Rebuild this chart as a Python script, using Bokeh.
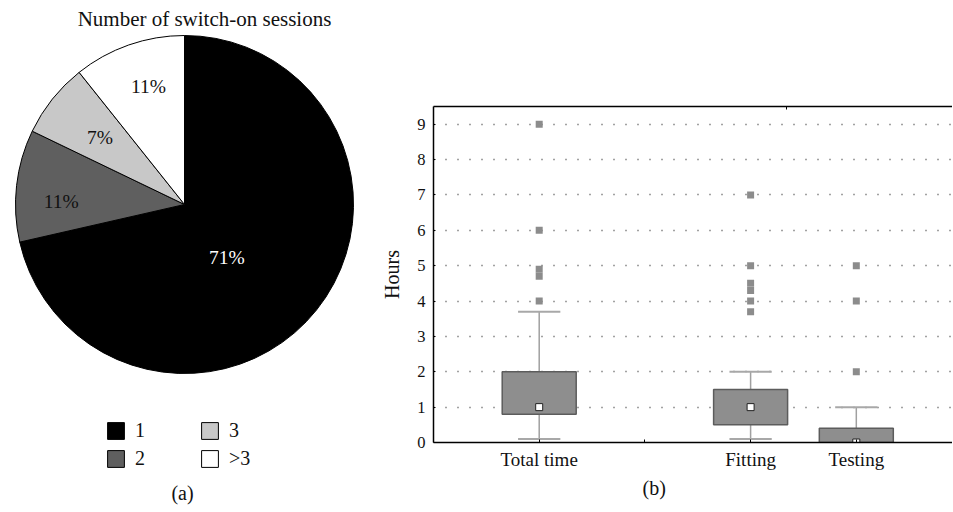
import math
from bokeh.plotting import figure
from bokeh.layouts import row, column
from bokeh.models import (Range1d, Label, Legend, LegendItem, LinearAxis,
                          FixedTicker, ColumnDataSource, Title)
from bokeh.embed import file_html
from bokeh.resources import INLINE

# ---------------- data ----------------
pie_title = "Number of switch-on sessions"
session_labels = ["1", "2", "3", ">3"]
session_counts = [20, 3, 2, 3]
session_colors = ["#000000", "#5f5f5f", "#c8c8c8", "#ffffff"]
pct_text_colors = ["#ffffff", "#111111", "#111111", "#111111"]

box_categories = ["Total time", "Fitting", "Testing"]
box_positions = [1, 3, 4]
box_q1 = [0.8, 0.5, 0.0]
box_q3 = [2.0, 1.5, 0.4]
box_median = [1.0, 1.0, 0.0]
whisker_low = [0.1, 0.1, 0.0]
whisker_high = [3.7, 2.0, 1.0]
outliers_total = [4.0, 4.7, 4.9, 6.0, 9.0]
outliers_fitting = [3.7, 4.0, 4.3, 4.5, 5.0, 7.0]
outliers_testing = [2.0, 4.0, 5.0]
y_ticks = [0, 1, 2, 3, 4, 5, 6, 7, 8, 9]

FONT = "Liberation Serif"

# ---------------- pie (a) ----------------
W1, H = 360, 511
p1 = figure(width=W1, height=H, x_range=Range1d(0, W1), y_range=Range1d(0, H),
            output_backend="svg", toolbar_location=None, min_border=0)
p1.axis.visible = False
p1.grid.visible = False
p1.outline_line_color = None

cx, cy, R = 184, 307, 169
total = sum(session_counts)
fracs = [c / total for c in session_counts]
cum = [0]
for f in fracs:
    cum.append(cum[-1] + f)
starts = [math.pi / 2 - 2 * math.pi * cum[i + 1] for i in range(len(fracs))]
ends = [math.pi / 2 - 2 * math.pi * cum[i] for i in range(len(fracs))]
src = ColumnDataSource(dict(start=starts, end=ends, color=session_colors,
                            label=session_labels))
wr = p1.wedge(x=cx, y=cy, radius=R, start_angle="start", end_angle="end",
              fill_color="color", line_color="#000000", line_width=1, source=src)

label_r = [0.40, 0.73, 0.64, 0.73]
label_shift = [-12.5, 5.0, 0.0, -2.3]   # degrees, counter-clockwise
for i, f in enumerate(fracs):
    mid = math.pi / 2 - 2 * math.pi * (cum[i] + f / 2) + math.radians(label_shift[i])
    lx = cx + label_r[i] * R * math.cos(mid)
    ly = cy + label_r[i] * R * math.sin(mid)
    p1.add_layout(Label(x=lx, y=ly, text=f"{round(f * 100)}%",
                        text_font=FONT, text_font_size="19.5px",
                        text_color=pct_text_colors[i], text_align="center",
                        text_baseline="middle"))

p1.add_layout(Label(x=204, y=493, text=pie_title, text_font=FONT,
                    text_font_size="21px", text_color="#111111",
                    text_align="center", text_baseline="middle"))
p1.add_layout(Label(x=182, y=19, text="(a)", text_font=FONT,
                    text_font_size="20px", text_color="#111111",
                    text_align="center", text_baseline="middle"))

items = [LegendItem(label=session_labels[i], renderers=[wr], index=i)
         for i in range(len(session_labels))]
legend = Legend(items=items, location=(105, 41), orientation="vertical", ncols=2,
                glyph_width=21, glyph_height=21, label_standoff=9,
                label_width=59, spacing=5, padding=0, margin=0,
                border_line_alpha=0, background_fill_alpha=0,
                label_text_font=FONT, label_text_font_size="20px",
                label_text_color="#111111")
p1.add_layout(legend)

# ---------------- box plot (b) ----------------
W2 = 952 - W1
p2 = figure(width=W2, height=H, x_range=Range1d(0, 4.91), y_range=Range1d(0, 9.5),
            output_backend="svg", toolbar_location=None,
            min_border_left=73, min_border_right=0, min_border_top=106,
            min_border_bottom=69, x_axis_location=None, y_axis_location=None)
p2.outline_line_color = None
p2.xgrid.visible = False

xax = LinearAxis(ticker=FixedTicker(ticks=box_positions, minor_ticks=[2]),
                 major_label_overrides={pos: lab for pos, lab in
                                        zip(box_positions, box_categories)})
xax.major_tick_in = 3
xax.major_tick_out = 0
xax.minor_tick_in = 3
xax.minor_tick_out = 0
xax.axis_line_width = 1.5
xax.major_label_text_font = FONT
xax.major_label_text_font_size = "19px"
xax.major_label_text_color = "#111111"
xax.major_label_standoff = 6
p2.add_layout(xax, "below")

p2.add_layout(Title(text="(b)", align="left", offset=209, standoff=4,
                    text_font=FONT, text_font_size="20px",
                    text_font_style="normal", text_color="#111111"), "below")

tax = LinearAxis(ticker=FixedTicker(ticks=[], minor_ticks=[3.34]))
tax.major_tick_in = 0
tax.major_tick_out = 0
tax.minor_tick_in = 3
tax.minor_tick_out = 0
tax.axis_line_width = 1.5
p2.add_layout(tax, "above")

yax = LinearAxis(ticker=FixedTicker(ticks=y_ticks), axis_label="Hours")
yax.major_tick_in = 2
yax.major_tick_out = 0
yax.minor_tick_line_color = None
yax.axis_line_width = 1.5
yax.major_label_text_font = FONT
yax.major_label_text_font_size = "16.5px"
yax.major_label_text_color = "#111111"
yax.major_label_standoff = 8
yax.axis_label_text_font = FONT
yax.axis_label_text_font_size = "20px"
yax.axis_label_text_font_style = "normal"
yax.axis_label_text_color = "#111111"
yax.axis_label_standoff = 11
p2.add_layout(yax, "left")

p2.ygrid.ticker = FixedTicker(ticks=y_ticks)
p2.ygrid.grid_line_color = "#444444"
p2.ygrid.grid_line_dash = "1 11"
p2.ygrid.grid_line_width = 1.5

box_w, cap_w = 0.7, 0.4
bsrc = ColumnDataSource(dict(x=box_positions, q1=box_q1, q3=box_q3, med=box_median,
                             lo=whisker_low, hi=whisker_high,
                             cl=[x - cap_w / 2 for x in box_positions],
                             cr=[x + cap_w / 2 for x in box_positions]))
p2.segment(x0="x", y0="q3", x1="x", y1="hi", line_color="#a0a0a0", line_width=1.5, source=bsrc)
p2.segment(x0="x", y0="lo", x1="x", y1="q1", line_color="#a0a0a0", line_width=1.5, source=bsrc)
p2.segment(x0="cl", y0="hi", x1="cr", y1="hi", line_color="#a8a8a8", line_width=2, source=bsrc)
p2.segment(x0="cl", y0="lo", x1="cr", y1="lo", line_color="#a8a8a8", line_width=2, source=bsrc)
p2.vbar(x="x", width=box_w, bottom="q1", top="q3", fill_color="#8e8e8e",
        line_color="#5c5c5c", line_width=1.5, source=bsrc)
p2.scatter(x="x", y="med", marker="square", size=7, fill_color="#ffffff",
           line_color="#222222", line_width=1, source=bsrc)

ox, oy = [], []
for pos, vals in zip(box_positions, [outliers_total, outliers_fitting, outliers_testing]):
    ox += [pos] * len(vals)
    oy += vals
p2.scatter(x=ox, y=oy, marker="square", size=7, fill_color="#8c8c8c",
           line_color=None)

layout = row(column(p1), column(p2))
open("out.html", "w").write(file_html(layout, INLINE))
